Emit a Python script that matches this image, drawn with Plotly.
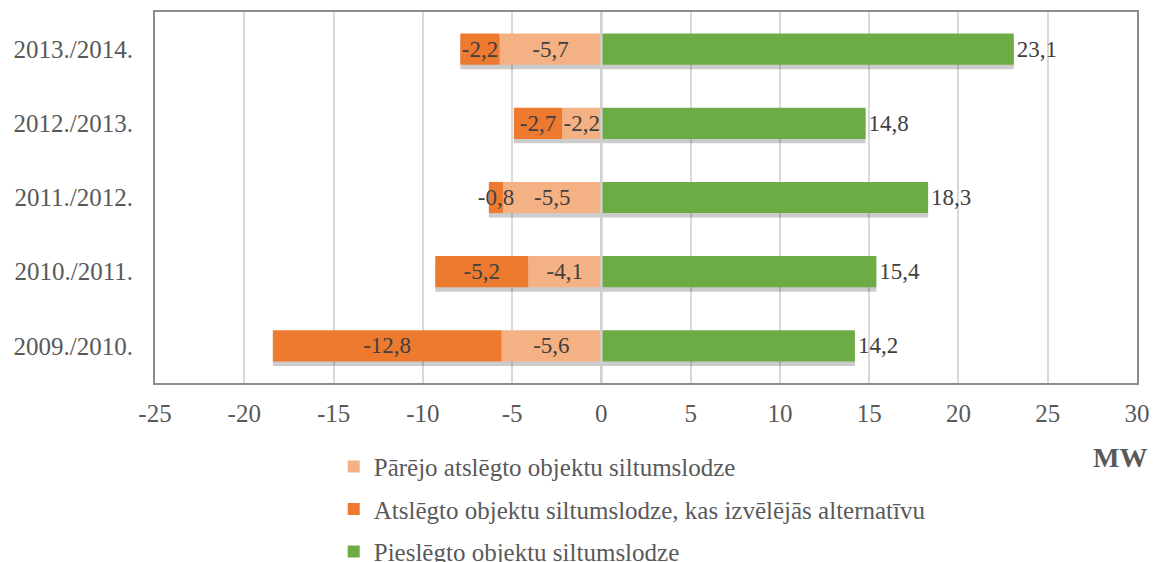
import plotly.graph_objects as go

# Heat load changes per heating season, MW
seasons = ["2009./2010.", "2010./2011.", "2011./2012.", "2012./2013.", "2013./2014."]
other_disconnected = [-5.6, -4.1, -5.5, -2.2, -5.7]
alt_disconnected = [-12.8, -5.2, -0.8, -2.7, -2.2]
connected = [14.2, 15.4, 18.3, 14.8, 23.1]

x_ticks = [-25, -20, -15, -10, -5, 0, 5, 10, 15, 20, 25, 30]
x_tick_text = [str(v) for v in x_ticks]

names = [
    "Pārējo atslēgto objektu siltumslodze",
    "Atslēgto objektu siltumslodze, kas izvēlējās alternatīvu",
    "Pieslēgto objektu siltumslodze",
]
colors = ["#F4B183", "#EE7A30", "#6DAC45"]
series = [other_disconnected, alt_disconnected, connected]

FONT = "Liberation Serif, Times New Roman, serif"
BAR_W = 0.42
SHIFT = 0.055  # shadow offset in category units


def fmt(v):
    return f"{v:.1f}".replace(".", ",")


fig = go.Figure()

# drop shadows on the base axis, slightly lower than the bars
for vals in series:
    fig.add_trace(go.Bar(
        y=list(range(len(seasons))), x=vals, orientation="h",
        width=BAR_W + 0.01, marker=dict(color="rgba(0,0,0,0.2)", line_width=0),
        showlegend=False, hoverinfo="skip", yaxis="y", xaxis="x",
    ))

# main bars on the overlaid axis
for i, (name, vals, col) in enumerate(zip(names, series, colors)):
    outside = i == 2
    fig.add_trace(go.Bar(
        y=list(range(len(seasons))), x=vals, orientation="h", name=name,
        width=BAR_W, marker=dict(color=col, line_width=0),
        text=[fmt(v) for v in vals],
        textposition="outside" if outside else "inside",
        insidetextanchor="middle",
        textangle=0,
        constraintext="none",
        cliponaxis=False,
        textfont=dict(family=FONT, size=23, color="#404040"),
        legendgroup=f"g{i}",
        yaxis="y2", xaxis="x",
    ))

fig.update_layout(
    width=1154, height=562,
    margin=dict(l=155, r=17, t=12, b=179, autoexpand=False),
    paper_bgcolor="white", plot_bgcolor="white",
    barmode="relative",
    font=dict(family=FONT, size=25, color="#595959"),
    xaxis=dict(
        range=[-25, 30], tickvals=x_ticks, ticktext=x_tick_text,
        showgrid=True, gridcolor="#D9D9D9", gridwidth=1.5,
        zeroline=False, showline=True, linecolor="#8C8C8C", linewidth=1.5,
        mirror=True, ticks="", ticklabelstandoff=7,
        tickfont=dict(family=FONT, size=25, color="#595959"),
    ),
    yaxis=dict(
        range=[-0.5 + SHIFT, len(seasons) - 0.5 + SHIFT],
        showticklabels=False, showgrid=False, zeroline=False,
        showline=True, linecolor="#8C8C8C", linewidth=1.5, mirror=True,
        fixedrange=True,
    ),
    yaxis2=dict(
        overlaying="y", side="left",
        range=[-0.5, len(seasons) - 0.5],
        tickvals=list(range(len(seasons))), ticktext=seasons,
        showgrid=False, zeroline=False, showline=False, ticks="",
        ticklabelstandoff=21,
        tickfont=dict(family=FONT, size=25, color="#595959"),
    ),
    legend=dict(
        orientation="v", x=0.182, xanchor="left", y=-0.164, yanchor="top",
        traceorder="grouped", tracegroupgap=7,
        font=dict(family=FONT, size=25, color="#595959"),
        bgcolor="rgba(0,0,0,0)",
    ),
    showlegend=True,
)

# zero reference line above the bars
fig.add_shape(type="line", xref="x", yref="paper", x0=0, x1=0, y0=0, y1=1,
              line=dict(color="#D0D0D0", width=2.5), layer="above")

fig.add_annotation(
    text="<b>MW</b>", xref="paper", yref="paper", x=0.983, y=-0.202,
    xanchor="center", yanchor="middle", showarrow=False,
    font=dict(family=FONT, size=28, color="#595959"),
)

fig.write_html("out.html")
